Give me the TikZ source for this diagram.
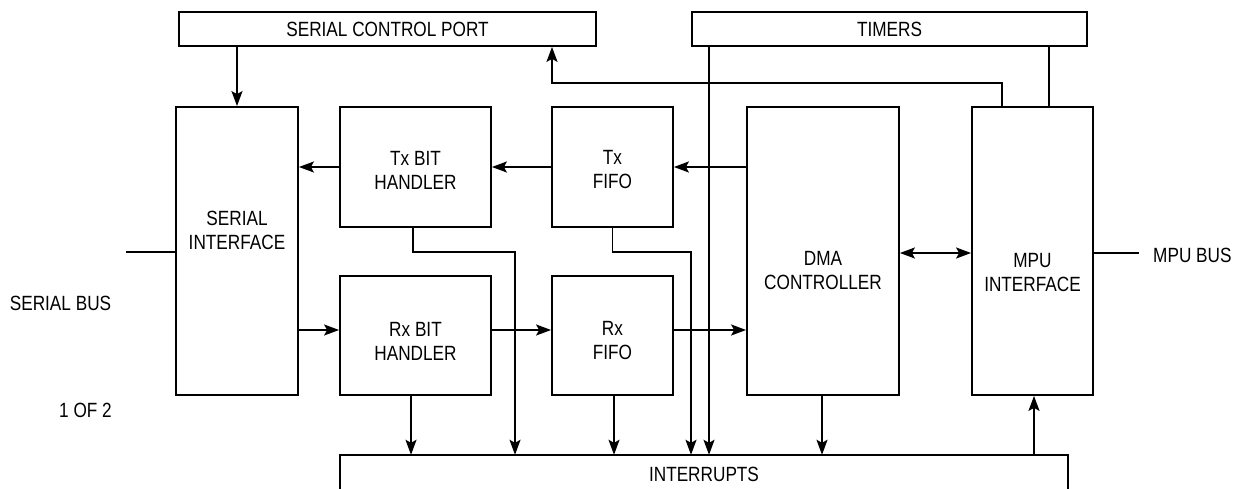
\documentclass[tikz,border=0pt]{standalone}
\usepackage{fontspec}
\setmainfont{Liberation Sans}[FakeStretch=0.835]
\usetikzlibrary{arrows.meta}
\begin{document}
\begin{tikzpicture}[x=1pt,y=-1pt,
  ln/.style={line width=1.8pt},
  tip/.tip={Stealth[length=15pt,width=11pt,inset=3pt]},
  arr/.style={ln,-tip},
  arrb/.style={ln,tip-tip},
  blk/.style={draw,line width=1.8pt,inner sep=0pt,font=\fontsize{20.6}{24}\selectfont},
  lbl/.style={font=\fontsize{20.6}{24}\selectfont,align=center,inner sep=0pt}]
\useasboundingbox (0,0) rectangle (1233,489);

% blocks
\node[blk,minimum width=417pt,minimum height=34pt] (scp) at (387.5,29) {SERIAL CONTROL PORT};
\node[blk,minimum width=395pt,minimum height=34pt] (timers) at (889.5,29) {TIMERS};
\node[blk,minimum width=122pt,minimum height=288pt] (si) at (237,251) {};
\node[blk,minimum width=151pt,minimum height=120pt] (txb) at (415.5,167) {};
\node[blk,minimum width=121pt,minimum height=120pt] (txf) at (612.5,167) {};
\node[blk,minimum width=152pt,minimum height=288pt] (dma) at (823,251) {};
\node[blk,minimum width=121pt,minimum height=288pt] (mpu) at (1032.5,251) {};
\node[blk,minimum width=151pt,minimum height=119pt] (rxb) at (415.5,335.5) {};
\node[blk,minimum width=121pt,minimum height=119pt] (rxf) at (612.5,335.5) {};
\node[inner sep=0pt,minimum width=728pt,minimum height=36pt] (int) at (704,473) {};
\draw[ln] (int.south west) -- (int.north west) -- (int.north east) -- (int.south east);

% texts
\node[lbl] (sit) at (237,230) {SERIAL\\INTERFACE};
\node[lbl] (txbt) at (415.5,170) {Tx BIT\\HANDLER};
\node[lbl] (txft) at (612.5,170) {Tx\\FIFO};
\node[lbl] (rxbt) at (415.5,341) {Rx BIT\\HANDLER};
\node[lbl] (rxft) at (612.5,341) {Rx\\FIFO};
\node[lbl] (dmat) at (823,270.5) {DMA\\CONTROLLER};
\node[lbl] (mput) at (1032.5,272.5) {MPU\\INTERFACE};
\node[lbl] (intt) at (704,474) {INTERRUPTS};
\node[lbl] (sbt) at (60.5,303) {SERIAL BUS};
\node[lbl] (oft) at (85.5,410.5) {1 OF 2};
\node[lbl,anchor=west] (mbt) at (1153,255) {MPU BUS};

% helper coordinates
\coordinate (rxrow) at (0,330);
\coordinate (k1) at (515,252);
\coordinate (k2) at (691,252);
\coordinate (tl) at (709,0);
\coordinate (mt) at (1049,0);
\coordinate (ma) at (1002,83);
\coordinate (sa) at (552,83);
\coordinate (sb) at (126,252);
\coordinate (mb) at (1139,253);

% connectors
\draw[arr] (si.north |- scp.south) -- (si.north);
\draw[arr] (txb.west) -- (si.east |- txb.west);
\draw[arr] (txf.west) -- (txb.east);
\draw[arr] (dma.west |- txf.east) -- (txf.east);
\draw[arr] (si.east |- rxrow) -- (rxb.west |- rxrow);
\draw[arr] (rxb.east |- rxrow) -- (rxf.west |- rxrow);
\draw[arr] (rxf.east |- rxrow) -- (dma.west |- rxrow);
\draw[arrb] (dma.east |- mb) -- (mpu.west |- mb);

\draw[arr] ([xshift=-2.5pt]txb.south) |- (k1) -- (k1 |- int.north);
\draw[arr] (txf.south) |- (k2) -- (k2 |- int.north);
\draw[arr] (tl |- timers.south) -- (tl |- int.north);
\draw[arr] ([xshift=-4.5pt]rxb.south) -- ([xshift=-4.5pt]rxb.south |- int.north);
\draw[arr] ([xshift=1.5pt]rxf.south) -- ([xshift=1.5pt]rxf.south |- int.north);
\draw[arr] ([xshift=-1pt]dma.south) -- ([xshift=-1pt]dma.south |- int.north);
\draw[arr] ([xshift=1.5pt]mpu.south |- int.north) -- ([xshift=1.5pt]mpu.south);

\draw[ln] (mt |- mpu.north) -- (mt |- timers.south);
\draw[arr] (ma |- mpu.north) -- (ma) -- (sa) -- (sa |- scp.south);

\draw[ln] (sb) -- (si.west |- sb);
\draw[ln] (mpu.east |- mb) -- (mb);
\end{tikzpicture}
\end{document}
